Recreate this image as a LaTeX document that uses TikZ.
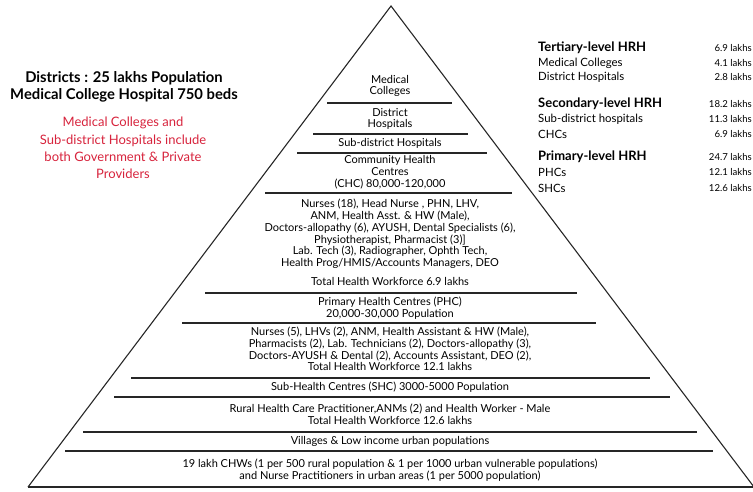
\documentclass[tikz,border=0pt]{standalone}
\usepackage{fontspec}
\setmainfont{Lato}
\usetikzlibrary{positioning}
\definecolor{notered}{RGB}{215,35,60}

\begin{document}
\begin{tikzpicture}[x=1pt,y=-1pt,font=\fontsize{11}{11.8}\selectfont,
  tier/.style={align=center,inner sep=0pt},
  divider/.style={line width=1.7pt,black!85},
  edge/.style={line width=1.1pt,black!85},
  side/.style={align=left,anchor=west,inner sep=0pt,font=\fontsize{11.4}{12}\selectfont},
  head/.style={side,font=\fontsize{13}{13}\selectfont\bfseries},
  amount/.style={anchor=east,inner sep=0pt,font=\fontsize{9.6}{12}\selectfont}]
\useasboundingbox (0,0) rectangle (753,491);

% Pyramid outline
\coordinate (apex) at (391,6);
\coordinate (baseL) at (28,487);
\coordinate (baseR) at (754,487);
\draw[edge] (baseL) -- (apex) -- (baseR);

% Dividers
\draw[divider] (327,103) -- (452,103);
\draw[divider] (313,134) -- (468,134);
\draw[divider] (297,153) -- (487,153);
\draw[divider] (265,193) -- (512,193);
\draw[divider] (205,293) -- (577,293);
\draw[divider] (182,323) -- (596,323);
\draw[divider] (131,378) -- (650,378);
\draw[divider] (114,397) -- (670,397);
\draw[divider] (83,432) -- (697,432);
\draw[divider] (65,451) -- (713,451);
\draw[divider] (28,487) -- (753,487);

% Tiers
\node[tier] (medcol) at (390,86) {Medical\\Colleges};
\node[tier] (dist) at (390,119) {District\\Hospitals};
\node[tier] (subdist) at (390,143) {Sub-district Hospitals};
\node[tier] (chc) at (390,172) {Community Health\\Centres\\(CHC) 80,000-120,000};
\node[tier] (chcstaff) at (390,234) {Nurses (18), Head Nurse , PHN, LHV,\\ANM, Health Asst. \& HW (Male),\\Doctors-allopathy (6), AYUSH, Dental Specialists (6),\\Physiotherapist, Pharmacist (3)]\\Lab. Tech (3), Radiographer, Ophth Tech,\\Health Prog/HMIS/Accounts Managers, DEO};
\node[tier] (chctotal) at (390,281) {Total Health Workforce 6.9 lakhs};
\node[tier] (phc) at (390,308) {Primary Health Centres (PHC)\\20,000-30,000 Population};
\node[tier] (phcstaff) at (390,349) {Nurses (5), LHVs (2), ANM, Health Assistant \& HW (Male),\\Pharmacists (2), Lab. Technicians (2), Doctors-allopathy (3),\\Doctors-AYUSH \& Dental (2), Accounts Assistant, DEO (2),\\Total Health Workforce 12.1 lakhs};
\node[tier] (shc) at (390,387) {Sub-Health Centres (SHC) 3000-5000 Population};
\node[tier] (shcstaff) at (390,414) {Rural Health Care Practitioner,ANMs (2) and Health Worker - Male\\Total Health Workforce 12.6 lakhs};
\node[tier] (village) at (390,441) {Villages \& Low income urban populations};
\node[tier] (chw) at (390,470) {19 lakh CHWs (1 per 500 rural population \& 1 per 1000 urban vulnerable populations)\\and Nurse Practitioners in urban areas (1 per 5000 population)};

% District note
\node[tier,font=\fontsize{14.8}{17}\selectfont\bfseries] (district) at (124,87) {Districts : 25 lakhs Population\\Medical College Hospital 750 beds};
\node[tier,font=\fontsize{13}{17.3}\selectfont,text=notered] (private) at (123,148) {Medical Colleges and\\Sub-district Hospitals include\\both Government \& Private\\Providers};

% HRH summary
\node[head] (tert) at (538,48) {Tertiary-level HRH};
\node[side] (tertmc) at (538,63) {Medical Colleges};
\node[side] (tertdh) at (538,77) {District Hospitals};
\node[head] (sec) at (538,104) {Secondary-level HRH};
\node[side] (secsd) at (538,119) {Sub-district hospitals};
\node[side] (secchc) at (538,134) {CHCs};
\node[head] (prim) at (538,157) {Primary-level HRH};
\node[side] (primphc) at (538,172) {PHCs};
\node[side] (primshc) at (538,188) {SHCs};

\node[amount] (vtert) at (752,48) {6.9 lakhs};
\node[amount] (vtertmc) at (752,63) {4.1 lakhs};
\node[amount] (vtertdh) at (752,77) {2.8 lakhs};
\node[amount] (vsec) at (752,104) {18.2 lakhs};
\node[amount] (vsecsd) at (752,119) {11.3 lakhs};
\node[amount] (vsecchc) at (752,134) {6.9 lakhs};
\node[amount] (vprim) at (752,157) {24.7 lakhs};
\node[amount] (vprimphc) at (752,172) {12.1 lakhs};
\node[amount] (vprimshc) at (752,188) {12.6 lakhs};
\end{tikzpicture}
\end{document}
